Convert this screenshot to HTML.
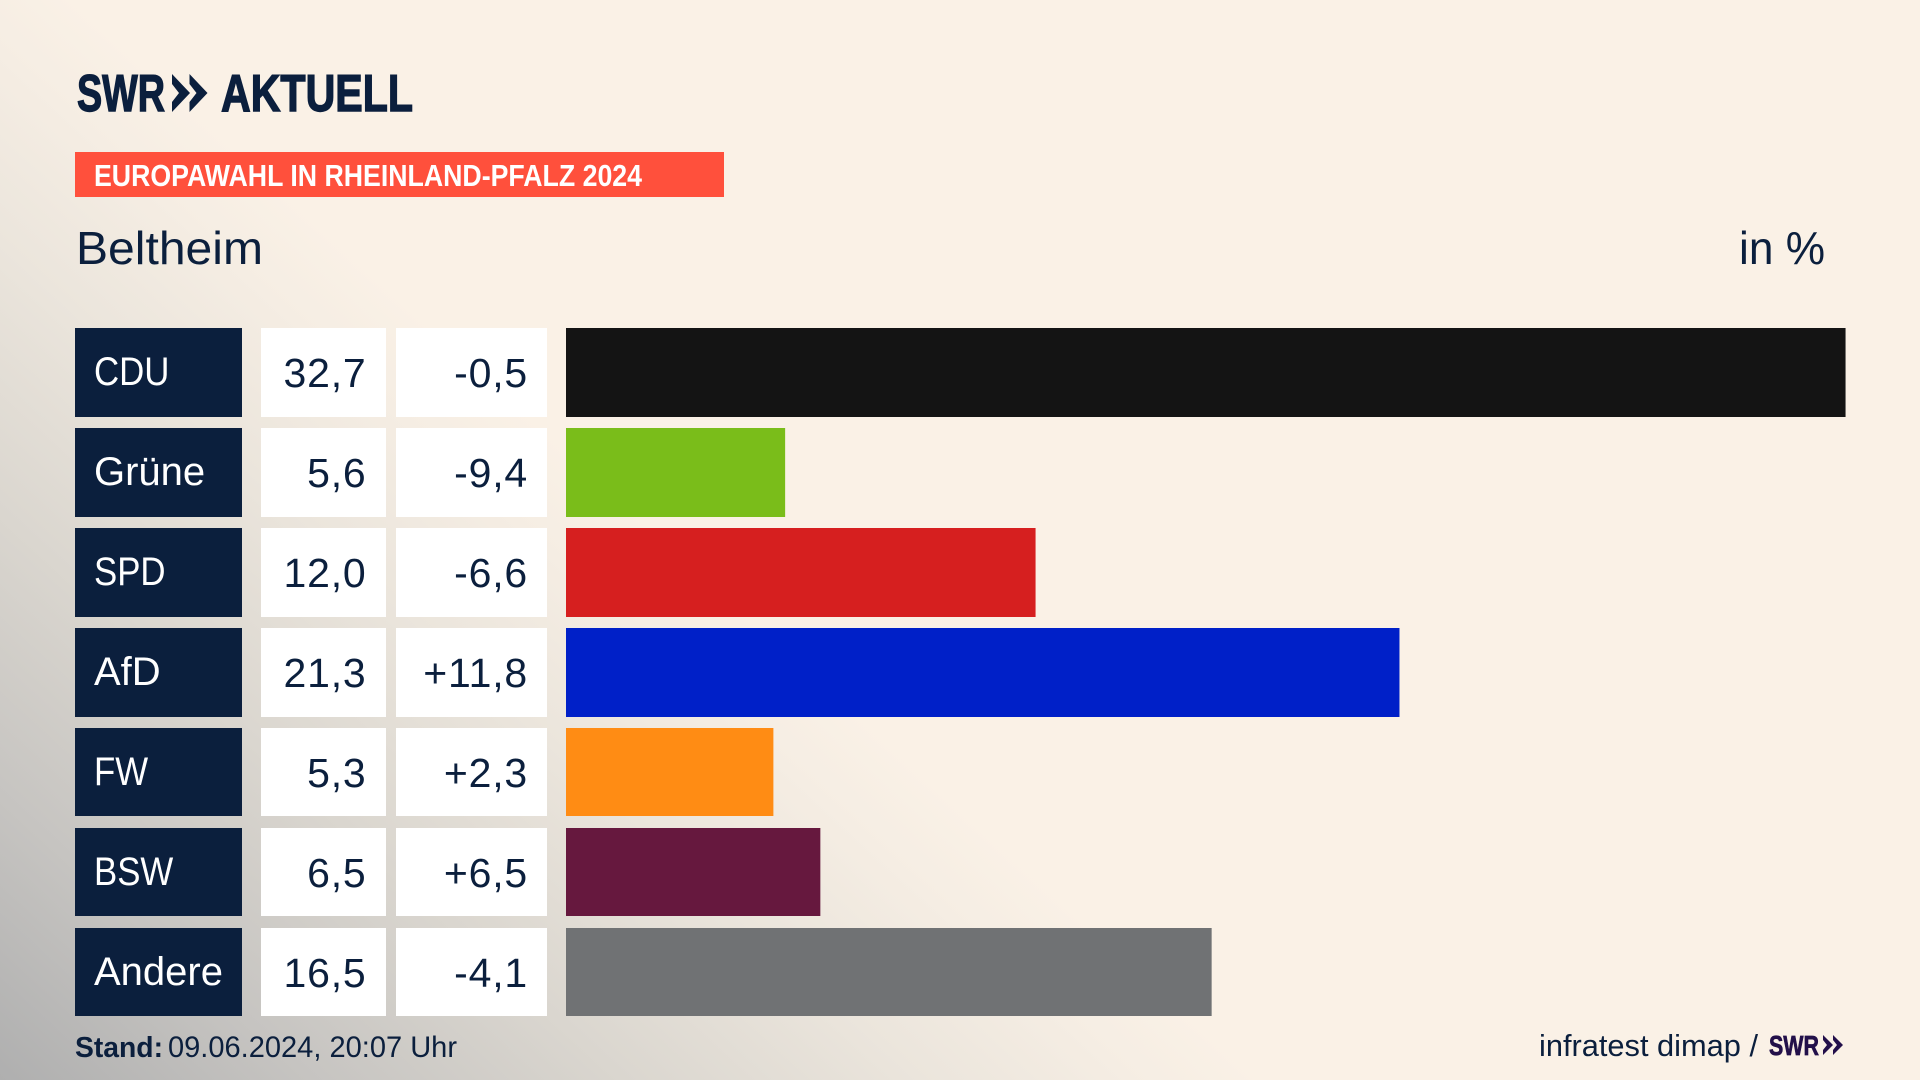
<!DOCTYPE html>
<html lang="de">
<head>
<meta charset="utf-8">
<title>Europawahl in Rheinland-Pfalz 2024 – Beltheim</title>
<style>
html,body{margin:0;padding:0;width:1920px;height:1080px;overflow:hidden;background:#faf1e6}
#stage{position:absolute;left:0;top:0;width:1920px;height:1080px;background:
linear-gradient(42.3deg,#afafaf 0px,#c6c4c1 210px,#dad6cf 420px,#ebe5dc 620px,#f5ede3 760px,#faf1e6 850px)}
svg{position:absolute;left:0;top:0;font-family:"Liberation Sans",sans-serif}
</style>
</head>
<body>
<div id="stage">
<svg id="chart" width="1920" height="1080" viewBox="0 0 1920 1080">
  <g fill="#0b1f3d" stroke="#0b1f3d" stroke-width="1.4">
    <text x="77" y="111" font-size="52" font-weight="700" textLength="88" lengthAdjust="spacingAndGlyphs">SWR</text>
    <polygon points="172,74 190,93 172,112 172,102 179,93 172,84" stroke="none"/>
    <polygon points="189.500,74 207.500,93 189.500,112 189.500,102 196.500,93 189.500,84" stroke="none"/>
    <text x="221" y="111" font-size="52" font-weight="700" textLength="192" lengthAdjust="spacingAndGlyphs">AKTUELL</text>
  </g>
  <rect x="75" y="152" width="649" height="45" fill="#ff503c"/>
  <text x="94" y="186" font-size="31" font-weight="700" fill="#ffffff" textLength="548" lengthAdjust="spacingAndGlyphs">EUROPAWAHL IN RHEINLAND-PFALZ 2024</text>
  <text x="76" y="264" font-size="46" fill="#0b1f3d" textLength="187" lengthAdjust="spacingAndGlyphs">Beltheim</text>
  <text x="1825" y="264" font-size="46" fill="#0b1f3d" text-anchor="end" textLength="86" lengthAdjust="spacingAndGlyphs">in %</text>
  <g id="rows"></g>
  <text x="75" y="1057" font-size="29" font-weight="700" fill="#0b1f3d" textLength="88" lengthAdjust="spacingAndGlyphs">Stand:</text>
  <text x="168" y="1057" font-size="30" fill="#0b1f3d" textLength="289" lengthAdjust="spacingAndGlyphs">09.06.2024, 20:07 Uhr</text>
  <text x="1539" y="1056" font-size="31" fill="#0b1f3d" textLength="219" lengthAdjust="spacingAndGlyphs">infratest dimap /</text>
  <g fill="#23104a" stroke="#23104a" stroke-width="0.7">
    <text x="1769" y="1055" font-size="28" font-weight="700" textLength="50" lengthAdjust="spacingAndGlyphs">SWR</text>
    <polygon points="1823,1035 1833,1045 1823,1055 1823,1050 1827,1045 1823,1040" stroke="none"/>
    <polygon points="1833,1035 1843,1045 1833,1055 1833,1050 1837,1045 1833,1040" stroke="none"/>
  </g>
</svg>
</div>
<script>
const parties = ["CDU", "Grüne", "SPD", "AfD", "FW", "BSW", "Andere"];
const shares = [32.7, 5.6, 12.0, 21.3, 5.3, 6.5, 16.5];
const changes = [-0.5, -9.4, -6.6, 11.8, 2.3, 6.5, -4.1];
const partyColors = ["#141414", "#7abd1a", "#d61f1f", "#0020c8", "#ff8c14", "#66183e", "#707274"];

const NS = "http://www.w3.org/2000/svg";
const rowsGroup = document.getElementById("rows");
const xScale = function (v) { return v * 39.13; };
const yScale = function (i) { return 328 + i * 100; };
const rowHeight = function (i) { return i < 4 ? 89 : 88; };
const navy = "#0b1f3d";

function formatShare(v) { return v.toFixed(1).replace(".", ","); }
function formatChange(v) { return (v > 0 ? "+" : "") + v.toFixed(1).replace(".", ","); }

function makeRect(x, y, w, h, fill) {
  const r = document.createElementNS(NS, "rect");
  r.setAttribute("x", x);
  r.setAttribute("y", y);
  r.setAttribute("width", w);
  r.setAttribute("height", h);
  r.setAttribute("fill", fill);
  return r;
}
function makeText(x, y, str, fill, anchor, size) {
  const t = document.createElementNS(NS, "text");
  t.setAttribute("x", x);
  t.setAttribute("y", y);
  t.setAttribute("fill", fill);
  t.setAttribute("font-size", size);
  t.setAttribute("text-anchor", anchor);
  t.textContent = str;
  return t;
}

parties.forEach(function (party, i) {
  const y = yScale(i);
  const h = rowHeight(i);
  const key = party.toLowerCase();

  const labelBox = makeRect(75, y, 167, h, navy);
  
  
  rowsGroup.appendChild(labelBox);

  const label = makeText(94, y + 57, party, "#ffffff", "start", "40");
  
  
  rowsGroup.appendChild(label);
  if (party === party.toUpperCase()) {
    label.setAttribute("textLength", label.getComputedTextLength() * 0.87);
    label.setAttribute("lengthAdjust", "spacingAndGlyphs");
  }

  const shareBox = makeRect(261, y, 125, h, "#ffffff");
  
  
  rowsGroup.appendChild(shareBox);

  const shareText = makeText(366.5, y + 59, formatShare(shares[i]), navy, "end", "41");
  shareText.setAttribute("letter-spacing", "0.8");
  
  
  rowsGroup.appendChild(shareText);

  const changeBox = makeRect(396, y, 151, h, "#ffffff");
  
  
  rowsGroup.appendChild(changeBox);

  const changeText = makeText(528, y + 59, formatChange(changes[i]), navy, "end", "41");
  changeText.setAttribute("letter-spacing", "0.8");
  
  
  rowsGroup.appendChild(changeText);

  const bar = makeRect(566, y, xScale(shares[i]), h, partyColors[i]);
  
  
  rowsGroup.appendChild(bar);
});
</script>
</body>
</html>
